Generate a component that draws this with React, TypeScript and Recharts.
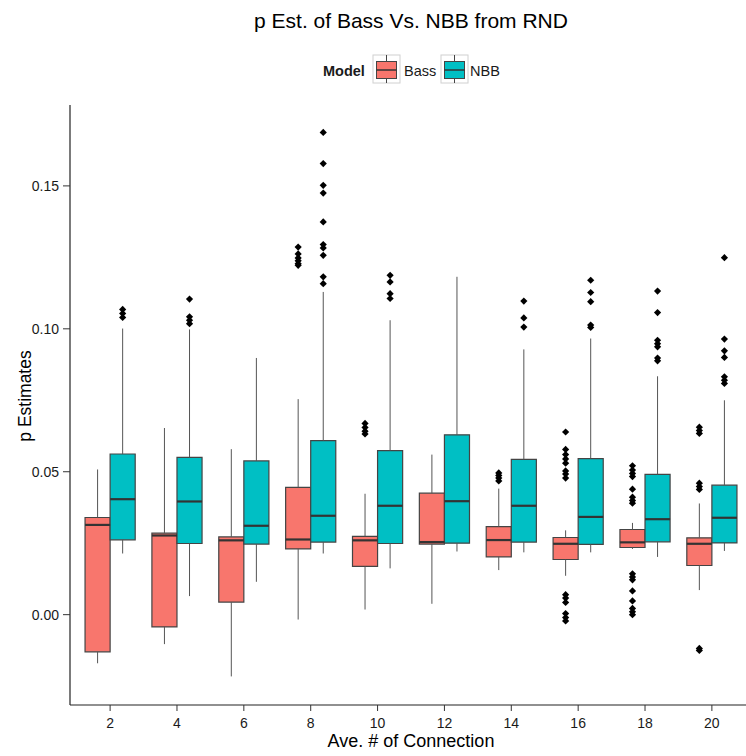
import React from "react";
import {
  ComposedChart,
  XAxis,
  YAxis,
  Scatter,
  ReferenceArea,
  ReferenceLine,
} from "recharts";

const FONT = "'Liberation Sans', Arial, sans-serif";
const BASS_COLOR = "#F8766D";
const NBB_COLOR = "#00BFC4";

const categories = ["2", "4", "6", "8", "10", "12", "14", "16", "18", "20"];
const yTicks = [0, 0.05, 0.1, 0.15];

// Bass model: whisker ends, quartiles and medians per connection count
const bassLow = [-0.017, -0.0103, -0.0216, -0.0017, 0.0018, 0.0038, 0.0156, 0.0136, 0.023, 0.0086];
const bassQ1 = [-0.013, -0.0043, 0.0044, 0.023, 0.0169, 0.0247, 0.0202, 0.0193, 0.0235, 0.0172];
const bassMedian = [0.0314, 0.0277, 0.026, 0.0263, 0.026, 0.0254, 0.0261, 0.0248, 0.0253, 0.0248];
const bassQ3 = [0.034, 0.0285, 0.0272, 0.0445, 0.0274, 0.0425, 0.0308, 0.027, 0.0298, 0.0269];
const bassHigh = [0.0508, 0.0653, 0.0579, 0.0754, 0.0423, 0.056, 0.0441, 0.0295, 0.0321, 0.0389];
const bassOutliers = [
  [],
  [],
  [],
  [0.1286, 0.1262, 0.1248, 0.1238, 0.1228, 0.1222],
  [0.0669, 0.0655, 0.0642, 0.0632],
  [],
  [0.0496, 0.0487, 0.0478, 0.0468],
  [0.0639, 0.0578, 0.056, 0.0545, 0.053, 0.0503, 0.0492, 0.0478, 0.007, 0.0058, 0.0043, 0.0004, -0.001, -0.0022],
  [0.0521, 0.0506, 0.0494, 0.0483, 0.0439, 0.0411, 0.0399, 0.039, 0.0143, 0.0132, 0.0122, 0.0083, 0.0048, 0.0022, 0.001, 0.0],
  [0.0656, 0.0644, 0.0634, 0.046, 0.0448, 0.0438, -0.0118, -0.0125],
];

// NBB model
const nbbLow = [0.0214, 0.0065, 0.0115, 0.0214, 0.0162, 0.0221, 0.0218, 0.0218, 0.0202, 0.0223];
const nbbQ1 = [0.0262, 0.0249, 0.0247, 0.0254, 0.0249, 0.025, 0.0254, 0.0246, 0.0255, 0.0251];
const nbbMedian = [0.0404, 0.0396, 0.0311, 0.0346, 0.0381, 0.0397, 0.0381, 0.0342, 0.0334, 0.0339];
const nbbQ3 = [0.0562, 0.055, 0.0538, 0.0609, 0.0574, 0.0629, 0.0543, 0.0546, 0.0491, 0.0453];
const nbbHigh = [0.1001, 0.0998, 0.0898, 0.1129, 0.103, 0.1182, 0.0928, 0.0966, 0.0834, 0.075];
const nbbOutliers = [
  [0.1068, 0.1054, 0.104],
  [0.1104, 0.1042, 0.103, 0.1018],
  [],
  [0.1687, 0.1578, 0.1502, 0.1475, 0.1374, 0.1295, 0.1283, 0.1257, 0.1182, 0.1158],
  [0.1187, 0.1164, 0.1123, 0.1106],
  [],
  [0.1097, 0.1038, 0.1006],
  [0.117, 0.1127, 0.1095, 0.1013, 0.1005],
  [0.1132, 0.1057, 0.096, 0.0948, 0.0937, 0.0898, 0.0888],
  [0.1249, 0.0964, 0.0923, 0.09, 0.0832, 0.082, 0.0809],
];

const DODGE = 0.375; // width of one box in category units

const models = [
  { name: "Bass", color: BASS_COLOR, side: -1, low: bassLow, q1: bassQ1, med: bassMedian, q3: bassQ3, high: bassHigh, out: bassOutliers },
  { name: "NBB", color: NBB_COLOR, side: 1, low: nbbLow, q1: nbbQ1, med: nbbMedian, q3: nbbQ3, high: nbbHigh, out: nbbOutliers },
];

const Diamond = (props: any) => {
  const { cx, cy } = props;
  const r = 3.6;
  return <path d={`M${cx},${cy - r}L${cx + r},${cy}L${cx},${cy + r}L${cx - r},${cy}Z`} fill="#000" />;
};

function LegendKey({ x, color }: { x: number; color: string }) {
  return (
    <g>
      <rect x={x} y={55} width={27} height={28} fill="#fff" stroke="#d0d0d0" />
      <line x1={x + 13.5} x2={x + 13.5} y1={55} y2={83} stroke="#444" />
      <rect x={x + 3.5} y={61.5} width={20} height={17} fill={color} stroke="#444" />
      <line x1={x + 3.5} x2={x + 23.5} y1={70} y2={70} stroke="#333" strokeWidth={1.5} />
    </g>
  );
}

export default function App() {
  const boxes: React.ReactNode[] = [];
  const whiskers: React.ReactNode[] = [];
  const medians: React.ReactNode[] = [];

  models.forEach((m) => {
    categories.forEach((_, i) => {
      const pos = i + 1;
      const left = m.side < 0 ? pos - DODGE : pos;
      const right = m.side < 0 ? pos : pos + DODGE;
      const mid = (left + right) / 2;
      whiskers.push(
        <ReferenceLine
          key={`wu-${m.name}-${i}`}
          segment={[{ x: mid, y: m.q3[i] }, { x: mid, y: m.high[i] }]}
          stroke="#555"
          strokeWidth={1}
          ifOverflow="visible"
        />,
        <ReferenceLine
          key={`wl-${m.name}-${i}`}
          segment={[{ x: mid, y: m.low[i] }, { x: mid, y: m.q1[i] }]}
          stroke="#555"
          strokeWidth={1}
          ifOverflow="visible"
        />
      );
      boxes.push(
        <ReferenceArea
          key={`b-${m.name}-${i}`}
          x1={left}
          x2={right}
          y1={m.q1[i]}
          y2={m.q3[i]}
          fill={m.color}
          fillOpacity={1}
          stroke="#444"
          strokeWidth={1.2}
          ifOverflow="visible"
        />
      );
      medians.push(
        <ReferenceLine
          key={`m-${m.name}-${i}`}
          segment={[{ x: left, y: m.med[i] }, { x: right, y: m.med[i] }]}
          stroke="#333"
          strokeWidth={2.2}
          ifOverflow="visible"
        />
      );
    });
  });

  const outlierData = models.map((m) =>
    m.out.flatMap((vals, i) => vals.map((v) => ({ x: i + 1 + (m.side * DODGE) / 2, y: v })))
  );

  return (
    <div style={{ position: "absolute", left: 0, top: 0, width: 746, height: 756, overflow: "hidden", background: "#fff" }}>
      <ComposedChart width={762} height={756} margin={{ top: 105, right: 10, bottom: 0, left: 10 }}>
        <XAxis
          type="number"
          dataKey="x"
          domain={[0.4, 10.6]}
          ticks={categories.map((_, i) => i + 1)}
          tickFormatter={(v: number) => categories[v - 1]}
          allowDataOverflow
          height={51}
          tickSize={6}
          tickMargin={7}
          axisLine={{ stroke: "#222", strokeWidth: 1.2 }}
          tickLine={{ stroke: "#333" }}
          tick={{ fill: "#1a1a1a", fontSize: 14, fontFamily: FONT }}
        />
        <YAxis
          type="number"
          dataKey="y"
          domain={[-0.0316, 0.1783]}
          ticks={yTicks}
          tickFormatter={(v: number) => v.toFixed(2)}
          allowDataOverflow
          width={60}
          tickSize={7}
          tickMargin={4}
          axisLine={{ stroke: "#222", strokeWidth: 1.2 }}
          tickLine={{ stroke: "#333" }}
          tick={{ fill: "#1a1a1a", fontSize: 14, fontFamily: FONT }}
        />
        {whiskers}
        {boxes}
        {medians}
        {models.map((m, k) => (
          <Scatter
            key={m.name}
            name={m.name}
            data={outlierData[k]}
            dataKey="y"
            shape={<Diamond />}
            isAnimationActive={false}
          />
        ))}
      </ComposedChart>
      <svg
        width={746}
        height={756}
        style={{ position: "absolute", left: 0, top: 0, pointerEvents: "none" }}
        fontFamily={FONT}
      >
        <text x={411} y={28} textAnchor="middle" fontSize={21} fill="#000">
          p Est. of Bass Vs. NBB from RND
        </text>
        <text x={323} y={76} fontSize={14.5} fontWeight="bold" fill="#1a1a1a">
          Model
        </text>
        <LegendKey x={373} color={BASS_COLOR} />
        <text x={404} y={76} fontSize={14.5} fill="#1a1a1a">
          Bass
        </text>
        <LegendKey x={441} color={NBB_COLOR} />
        <text x={470} y={76} fontSize={14.5} fill="#1a1a1a">
          NBB
        </text>
        <text x={411} y={747} textAnchor="middle" fontSize={18} fill="#000">
          Ave. # of Connection
        </text>
        <text transform="translate(31,396) rotate(-90)" textAnchor="middle" fontSize={17.5} fill="#000">
          p Estimates
        </text>
      </svg>
    </div>
  );
}
